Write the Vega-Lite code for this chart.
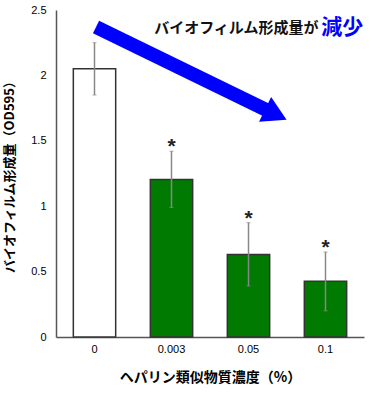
{
  "$schema": "https://vega.github.io/schema/vega-lite/v6.json",
  "width": 308,
  "height": 327,
  "autosize": {"type": "none"},
  "padding": {"left": 56, "top": 10, "right": 10, "bottom": 57},
  "background": "white",
  "config": {"view": {"stroke": null}, "font": "Liberation Sans"},
  "datasets": {
    "bars": [
      {"conc": "0", "mean": 2.05, "lo": 1.85, "hi": 2.25, "sig": "", "grp": "control"},
      {"conc": "0.003", "mean": 1.205, "lo": 0.99, "hi": 1.42, "sig": "*", "grp": "treated"},
      {"conc": "0.05", "mean": 0.63, "lo": 0.39, "hi": 0.874, "sig": "*", "grp": "treated"},
      {"conc": "0.1", "mean": 0.426, "lo": 0.2, "hi": 0.65, "sig": "*", "grp": "treated"}
    ],
    "arrow": [
      {"ax": 0.52, "ay": 2.37, "ord": 0},
      {"ax": 2.76, "ay": 1.728, "ord": 1}
    ],
    "head": [
      {"ax": 2.855, "ay": 1.70}
    ],
    "notes": [
      {"ax": 3.41, "ay": 2.365, "label": "バイオフィルム形成量が", "kind": "black"},
      {"ax": 3.99, "ay": 2.365, "label": "減少", "kind": "blue"}
    ]
  },
  "layer": [
    {
      "data": {"name": "bars"},
      "encoding": {
        "x": {
          "field": "conc", "type": "nominal", "sort": null,
          "scale": {"paddingInner": 0.45, "paddingOuter": 0.225},
          "axis": {
            "title": "ヘパリン類似物質濃度（%）",
            "titleFont": "Noto Sans CJK JP", "titleFontSize": 14, "titleFontWeight": "bold",
            "titleColor": "black", "titlePadding": 16,
            "labelAngle": 0, "labelFontSize": 11, "labelColor": "black", "labelPadding": 6,
            "ticks": false, "domainColor": "#555", "domainWidth": 1.5
          }
        },
        "y": {
          "type": "quantitative",
          "scale": {"domain": [0, 2.5], "nice": false},
          "axis": {
            "title": "バイオフィルム形成量（OD595）",
            "titleFont": "Noto Sans CJK JP", "titleFontSize": 13, "titleFontWeight": "bold",
            "titleColor": "black", "titlePadding": 14,
            "values": [0, 0.5, 1, 1.5, 2, 2.5],
            "format": "~g",
            "labelFontSize": 11, "labelColor": "black", "labelPadding": 10,
            "ticks": false, "grid": false, "domainColor": "#555", "domainWidth": 1.5
          }
        }
      },
      "layer": [
        {
          "mark": {"type": "bar", "stroke": "#333", "strokeWidth": 1.5},
          "encoding": {
            "y": {"field": "mean"},
            "fill": {
              "field": "grp", "type": "nominal", "legend": null,
              "scale": {"domain": ["control", "treated"], "range": ["white", "#007a00"]}
            }
          }
        },
        {
          "mark": {"type": "rule", "color": "#888", "strokeWidth": 1.5},
          "encoding": {"y": {"field": "lo"}, "y2": {"field": "hi"}}
        },
        {
          "mark": {"type": "tick", "color": "#888", "size": 4, "thickness": 1},
          "encoding": {"y": {"field": "lo"}}
        },
        {
          "mark": {"type": "tick", "color": "#888", "size": 4, "thickness": 1},
          "encoding": {"y": {"field": "hi"}}
        },
        {
          "mark": {"type": "text", "fontSize": 21, "fontWeight": "bold", "color": "#222", "baseline": "middle", "dy": -4, "font": "Liberation Sans"},
          "encoding": {"y": {"field": "hi"}, "text": {"field": "sig"}}
        }
      ]
    },
    {
      "data": {"name": "arrow"},
      "mark": {"type": "line", "color": "#0000ff", "strokeWidth": 14, "strokeCap": "butt"},
      "encoding": {
        "x": {"field": "ax", "type": "quantitative", "scale": {"domain": [0, 4], "nice": false}, "axis": null},
        "y": {"field": "ay", "type": "quantitative"},
        "order": {"field": "ord"}
      }
    },
    {
      "data": {"name": "head"},
      "mark": {"type": "point", "shape": "triangle-up", "filled": true, "color": "#0000ff", "opacity": 1, "size": 760, "angle": 116},
      "encoding": {
        "x": {"field": "ax", "type": "quantitative", "scale": {"domain": [0, 4], "nice": false}, "axis": null},
        "y": {"field": "ay", "type": "quantitative"}
      }
    },
    {
      "data": {"name": "notes"},
      "mark": {"type": "text", "align": "right", "baseline": "middle", "font": "Noto Sans CJK JP", "fontWeight": "bold"},
      "encoding": {
        "x": {"field": "ax", "type": "quantitative", "scale": {"domain": [0, 4], "nice": false}, "axis": null},
        "y": {"field": "ay", "type": "quantitative"},
        "text": {"field": "label"},
        "color": {"field": "kind", "type": "nominal", "legend": null, "scale": {"domain": ["black", "blue"], "range": ["#111", "#0000ff"]}},
        "size": {"field": "kind", "type": "nominal", "legend": null, "scale": {"domain": ["black", "blue"], "range": [15, 21]}}
      }
    }
  ],
  "resolve": {"scale": {"x": "independent", "color": "independent", "size": "independent"}}
}
